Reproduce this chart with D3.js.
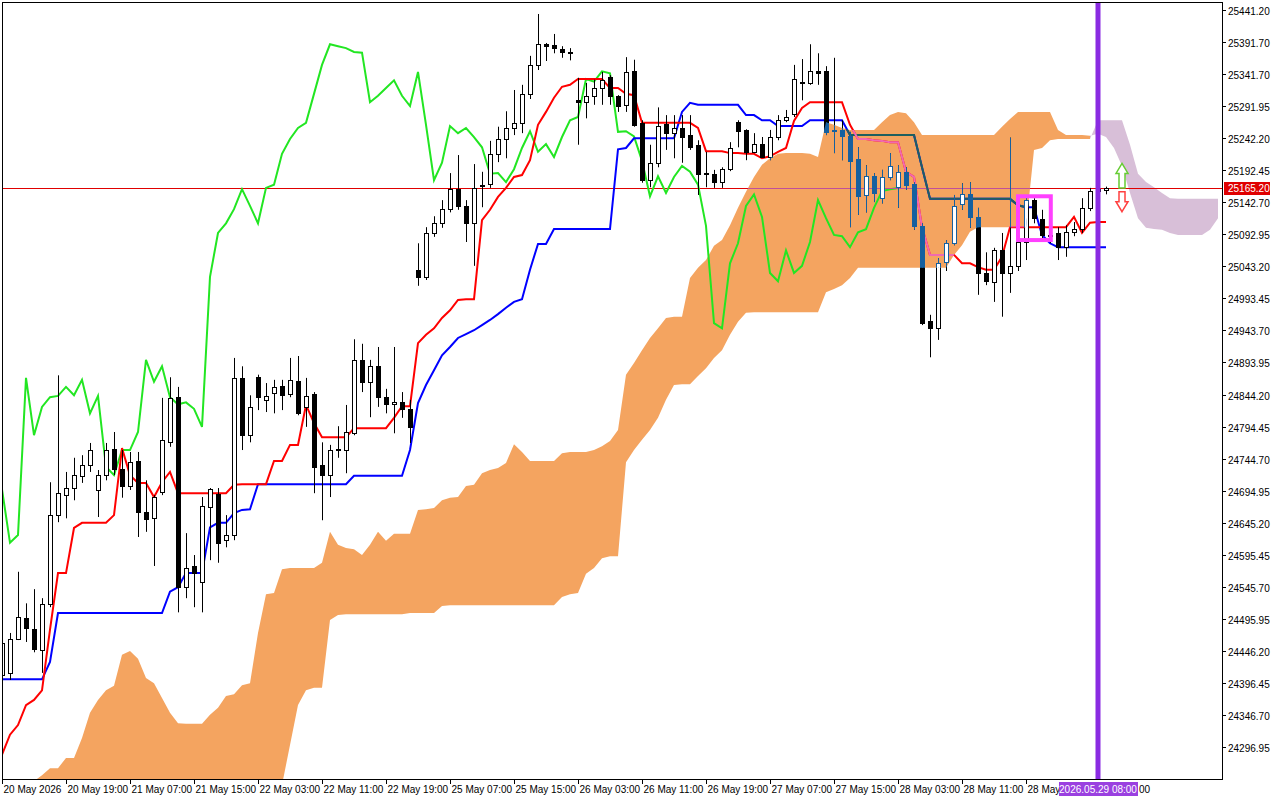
<!DOCTYPE html>
<html><head><meta charset="utf-8">
<script src="https://cdn.jsdelivr.net/npm/d3@7/dist/d3.min.js"></script>
<style>body{margin:0;background:#fff}svg{display:block}text{font-family:"Liberation Sans",Arial,sans-serif;font-size:10px}</style>
</head><body><svg id="c" width="1280" height="800"></svg>
<script>
const timeLabels=["20 May 2026","20 May 19:00","21 May 07:00","21 May 15:00","22 May 03:00","22 May 11:00","22 May 19:00","25 May 07:00","25 May 15:00","26 May 03:00","26 May 11:00","26 May 19:00","27 May 07:00","27 May 15:00","28 May 03:00","28 May 11:00","28 May"];
const priceTicks=[25441.20,25391.70,25341.70,25291.95,25242.20,25192.45,25142.70,25092.95,25043.20,24993.45,24943.70,24893.95,24844.20,24794.45,24744.70,24694.95,24645.20,24595.45,24545.70,24495.95,24446.20,24396.45,24346.70,24296.95];
const open=[24409,24412,24465,24497,24480,24448,24519,24657,24688,24699,24718,24735,24696,24719,24760,24729,24702,24741,24662,24652,24693,24770,24840,24545,24578,24553,24670,24690,24618,24626,24870,24781,24871,24835,24846,24857,24845,24865,24825,24845,24735,24719,24759,24758,24784,24898,24864,24888,24840,24829,24832,24822,25037,25027,25095,25110,25132,25163,25137,25110,25168,25171,25218,25241,25258,25266,25311,25356,25388,25387,25381,25376,25301,25298,25308,25320,25337,25308,25294,25346,25266,25177,25204,25264,25250,25258,25247,25232,25188,25187,25174,25194,25267,25255,25221,25233,25213,25244,25270,25280,25329,25328,25346,25346,25255,25255,25245,25210,25154,25183,25149,25182,25166,25190,25171,25106,24958,24947,25050,25079,25140,25155,25120,25033,25019,25068,25033,25044,25081,25146,25116,25092,25095,25073,25096,25101,25134,25160,25161];
const high=[24476,24474,24569,24520,24542,24528,24708,24874,24724,24746,24750,24769,24727,24769,24786,24758,24755,24755,24711,24688,24839,24871,24856,24629,24595,24685,24699,24699,24657,24901,24888,24843,24875,24862,24867,24867,24901,24904,24870,24848,24770,24766,24795,24828,24930,24923,24898,24918,24853,24918,24848,24836,25079,25104,25121,25146,25188,25216,25146,25202,25190,25238,25260,25284,25317,25325,25370,25435,25390,25404,25385,25382,25336,25328,25333,25345,25340,25309,25368,25364,25270,25232,25290,25278,25278,25278,25278,25239,25221,25193,25197,25236,25270,25256,25250,25244,25255,25278,25286,25356,25365,25388,25374,25354,25367,25270,25252,25228,25200,25188,25193,25219,25200,25197,25174,25110,24968,25056,25084,25154,25172,25174,25134,25065,25072,25095,25243,25084,25149,25149,25131,25100,25104,25107,25112,25149,25165,25168,25167];
const low=[24370,24401,24463,24460,24444,24412,24514,24646,24652,24680,24707,24724,24654,24711,24719,24684,24696,24623,24631,24578,24688,24763,24506,24528,24514,24506,24587,24583,24607,24618,24758,24770,24820,24817,24815,24820,24840,24812,24794,24691,24649,24685,24746,24722,24781,24848,24809,24825,24815,24784,24808,24769,25013,25022,25089,25103,25127,25131,25081,25044,25135,25165,25205,25211,25247,25250,25303,25348,25362,25374,25367,25363,25232,25273,25294,25294,25294,25283,25283,25260,25173,25166,25197,25224,25211,25204,25224,25154,25166,25165,25165,25191,25228,25208,25219,25213,25208,25239,25267,25275,25301,25325,25325,25247,25219,25208,25104,25123,25127,25143,25141,25177,25134,25162,25100,24952,24902,24929,25036,25076,25131,25103,24999,25014,24988,24965,25002,25036,25053,25110,25087,25079,25053,25058,25090,25095,25129,25155,25155];
const close=[24458,24465,24499,24482,24449,24519,24657,24691,24699,24719,24735,24758,24719,24758,24729,24702,24739,24662,24651,24685,24773,24839,24545,24575,24567,24671,24697,24614,24626,24870,24781,24825,24840,24842,24856,24843,24867,24815,24842,24732,24719,24758,24758,24786,24898,24864,24888,24840,24829,24832,24822,24794,25027,25095,25110,25132,25163,25137,25110,25165,25170,25218,25241,25258,25266,25311,25356,25388,25385,25382,25376,25375,25298,25308,25320,25332,25308,25292,25345,25263,25177,25204,25261,25250,25258,25244,25228,25187,25188,25174,25194,25227,25253,25221,25233,25213,25244,25270,25275,25334,25330,25346,25343,25252,25253,25245,25207,25152,25183,25157,25182,25199,25190,25170,25106,24955,24947,25048,25079,25137,25155,25120,25033,25020,25068,25033,25044,25081,25146,25118,25092,25090,25073,25096,25101,25134,25160,25163,25165];
const tenkan=[24285,24316,24331,24362,24370,24385,24479,24567,24567,24637,24645,24645,24645,24645,24657,24761,24719,24707,24707,24685,24708,24724,24691,24691,24691,24691,24691,24691,24691,24704,24705,24705,24705,24705,24741,24741,24766,24766,24828,24800,24778,24778,24778,24778,24792,24792,24792,24792,24792,24808,24826,24826,24924,24937,24947,24963,24975,24991,24992,24992,25115,25131,25151,25165,25182,25185,25208,25263,25283,25305,25322,25325,25334,25334,25334,25334,25320,25320,25311,25309,25266,25266,25266,25266,25266,25266,25266,25258,25222,25222,25222,25219,25219,25218,25218,25211,25214,25221,25227,25269,25289,25298,25298,25298,25298,25298,25263,25241,25241,25239,25238,25236,25236,25190,25182,25104,25061,25061,25061,25061,25048,25048,25042,25038,25038,25058,25104,25104,25104,25104,25104,25104,25104,25104,25120,25095,25111,25112,25112];
const kijun=[24402,24402,24402,24402,24402,24402,24429,24505,24505,24505,24505,24505,24505,24505,24505,24505,24505,24505,24505,24505,24505,24538,24545,24567,24567,24567,24638,24645,24645,24660,24665,24666,24705,24705,24705,24705,24705,24705,24705,24705,24705,24705,24705,24705,24718,24718,24718,24718,24718,24718,24718,24758,24831,24859,24882,24905,24918,24932,24938,24944,24952,24960,24969,24979,24988,24992,25038,25078,25078,25101,25101,25101,25101,25101,25101,25101,25101,25225,25227,25242,25242,25242,25242,25242,25242,25283,25297,25294,25294,25294,25294,25294,25294,25278,25278,25270,25270,25261,25261,25261,25261,25270,25270,25270,25270,25270,25247,25247,25247,25247,25247,25247,25247,25247,25247,25197,25148,25148,25148,25148,25148,25148,25148,25148,25148,25148,25148,25138,25135,25135,25092,25079,25073,25073,25073,25073,25073,25073,25073];
const senkouA=[24215,24222,24230,24238,24244,24253,24264,24264,24280,24280,24311,24350,24370,24385,24392,24440,24446,24434,24404,24396,24373,24350,24334,24333,24333,24333,24347,24358,24376,24379,24393,24396,24474,24534,24536,24573,24575,24575,24575,24575,24583,24631,24611,24606,24604,24595,24611,24631,24617,24628,24628,24628,24665,24666,24668,24680,24684,24685,24702,24704,24722,24727,24730,24738,24767,24755,24741,24741,24741,24741,24753,24755,24755,24755,24758,24764,24772,24789,24875,24893,24913,24932,24947,24963,24965,24965,25025,25041,25053,25075,25084,25107,25134,25159,25182,25201,25211,25218,25219,25219,25219,25218,25213,25267,25263,25258,25255,25255,25255,25255,25267,25278,25283,25281,25267,25247,25247,25247,25247,25247,25247,25247,25247,25247,25247,25260,25272,25283,25283,25283,25283,25283,25255,25247,25247,25247,25246,25249,25244,25227,25199,25157,25118,25103,25101,25100,25095,25092,25092,25092,25092,25100,25118];
const senkouB=[24200,24200,24200,24200,24200,24200,24200,24200,24200,24200,24200,24200,24200,24200,24200,24200,24200,24200,24200,24200,24200,24200,24200,24200,24200,24200,24200,24200,24200,24200,24200,24200,24200,24200,24200,24238,24300,24362,24385,24389,24389,24494,24502,24503,24503,24503,24503,24503,24503,24503,24503,24505,24505,24505,24505,24516,24517,24517,24517,24517,24517,24517,24517,24517,24517,24517,24517,24517,24517,24517,24530,24534,24536,24566,24575,24590,24593,24593,24739,24758,24774,24789,24808,24836,24859,24860,24860,24873,24885,24901,24913,24937,24957,24971,24972,24972,24972,24972,24972,24972,24972,24972,24972,25003,25008,25014,25025,25041,25041,25041,25041,25041,25041,25041,25041,25041,25041,25041,25041,25061,25076,25097,25104,25104,25104,25104,25104,25104,25104,25224,25227,25239,25241,25241,25241,25241,25241,25270,25270,25270,25270,25232,25187,25174,25166,25157,25149,25148,25148,25148,25148,25148,25148];
const currentPrice=25165.20;
const markerIndex=137, markerLabel="2026.05.29 08:00", tailLabel="00";
const highlightBox=[127,131.1,25152,25084];
const arrowIndex=140, upArrow=[25203,25165], downArrow=[25159,25128];

const svg=d3.select("#c");
const L=2,R=1222,T=2,B=779;
const x=d3.scaleLinear().domain([0,152.5]).range([2,1222]);
const y=d3.scaleLinear().domain([24296.95,25441.20]).range([747,10]);
const chikou=close.slice(26);
const defs=svg.append("defs");
defs.append("clipPath").attr("id","plot").append("rect").attr("x",L).attr("y",T).attr("width",R-L).attr("height",B-T);
const idx=d3.range(senkouA.length);
const orangeIdx=idx.filter(i=>i<=136), lilacIdx=idx.filter(i=>i>=136);
const area=d3.area().x(i=>x(i)).y0(i=>y(senkouA[i])).y1(i=>y(senkouB[i]));
defs.append("clipPath").attr("id","cloud").append("path").attr("d",area(orangeIdx));
const g=svg.append("g").attr("clip-path","url(#plot)");
g.append("path").attr("d",area(orangeIdx)).attr("fill","#f4a460");
g.append("path").attr("d",area(lilacIdx)).attr("fill","#d8bfd8");

function drawAll(layer,inCloud){
  const lineGen=arr=>d3.line().x((d,i)=>x(i)).y(d=>y(d))(arr);
  layer.append("line").attr("x1",L).attr("x2",R).attr("y1",Math.round(y(currentPrice))+0.5).attr("y2",Math.round(y(currentPrice))+0.5).attr("stroke",inCloud?"#c0509a":"#e00000").attr("stroke-width",1);
  if(!inCloud) layer.append("path").attr("d",lineGen(chikou)).attr("fill","none").attr("stroke","#22e622").attr("stroke-width",2);
  layer.append("path").attr("d",lineGen(kijun)).attr("fill","none").attr("stroke",inCloud?"#1f5f5f":"#0000ff").attr("stroke-width",2);
  layer.append("path").attr("d",lineGen(tenkan)).attr("fill","none").attr("stroke",inCloud?"#f06ab0":"#ff0000").attr("stroke-width",2);
  const col=inCloud?"#16609f":"#000";
  open.forEach((o,i)=>{
    const cx=Math.round(x(i))+0.5, c=close[i];
    layer.append("line").attr("x1",cx).attr("x2",cx).attr("y1",y(high[i])).attr("y2",y(low[i])).attr("stroke",col);
    const top=Math.round(y(Math.max(o,c))), bot=Math.round(y(Math.min(o,c)));
    layer.append("rect").attr("x",cx-2).attr("y",top+0.5).attr("width",4).attr("height",Math.max(1,bot-top))
      .attr("fill",c>=o?"#fff":col).attr("stroke",col).attr("stroke-width",1);
  });
}
drawAll(g.append("g"),false);
drawAll(g.append("g").attr("clip-path","url(#cloud)"),true);
g.append("rect").attr("x",x(highlightBox[0])).attr("y",y(highlightBox[2])).attr("width",x(highlightBox[1])-x(highlightBox[0])).attr("height",y(highlightBox[3])-y(highlightBox[2]))
 .attr("fill","none").attr("stroke","#ff40ff").attr("stroke-width",4);
const ax=x(arrowIndex);
function arrowPath(tipY,baseY,dir){const hw=6,sw=3,hl=10*dir;return `M${ax},${tipY} L${ax+hw},${tipY+hl} L${ax+sw},${tipY+hl} L${ax+sw},${baseY} L${ax-sw},${baseY} L${ax-sw},${tipY+hl} L${ax-hw},${tipY+hl} Z`;}
g.append("path").attr("d",arrowPath(y(upArrow[0]),y(upArrow[1]),1)).attr("fill","#fff").attr("stroke","#66cc33").attr("stroke-width",1.5);
g.append("path").attr("d",arrowPath(y(downArrow[1]),y(downArrow[0]),-1)).attr("fill","#fff").attr("stroke","#ff4040").attr("stroke-width",1.5);
g.append("line").attr("x1",x(markerIndex)).attr("x2",x(markerIndex)).attr("y1",0).attr("y2",B).attr("stroke","#8a2be2").attr("stroke-width",5);
svg.append("rect").attr("x",L+0.5).attr("y",T+0.5).attr("width",R-L).attr("height",B-T).attr("fill","none").attr("stroke","#000");
const ya=svg.append("g");
priceTicks.forEach(p=>{const yy=Math.round(y(p))+0.5;
 ya.append("line").attr("x1",R).attr("x2",R+4).attr("y1",yy).attr("y2",yy).attr("stroke","#000");
 ya.append("text").attr("x",R+6).attr("y",yy+4).text(p.toFixed(2));});
const cy=Math.round(y(currentPrice));
ya.append("rect").attr("x",R+2).attr("y",cy-6).attr("width",46).attr("height",13).attr("fill","#e00000");
ya.append("text").attr("x",R+6).attr("y",cy+4).attr("fill","#fff").text(currentPrice.toFixed(2));
const xa=svg.append("g");
timeLabels.forEach((t,k)=>{const xx=Math.round(x(k*8))+0.5;
 xa.append("line").attr("x1",xx).attr("x2",xx).attr("y1",B).attr("y2",B+5).attr("stroke","#000");
 xa.append("text").attr("x",xx+1).attr("y",B+14).text(t);});
const mx=x(markerIndex);
xa.append("rect").attr("x",mx-39).attr("y",B+3).attr("width",79).attr("height",14).attr("fill","#9a40e0");
xa.append("text").attr("x",mx).attr("y",B+14).attr("text-anchor","middle").attr("fill","#fff").text(markerLabel);
xa.append("text").attr("x",mx+41).attr("y",B+14).text(tailLabel);
</script></body></html>
